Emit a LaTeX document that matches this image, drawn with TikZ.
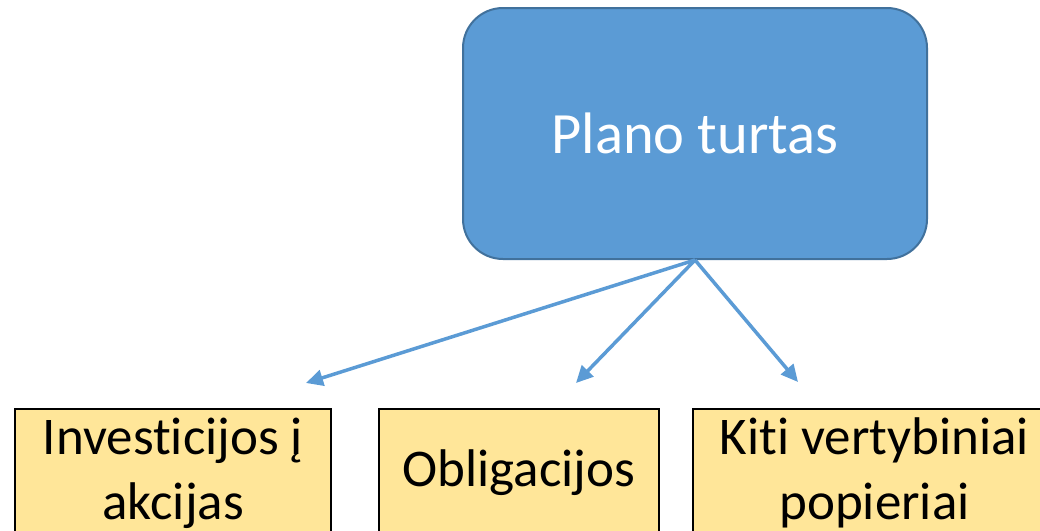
\documentclass[tikz,border=0pt]{standalone}
\usepackage{fontspec}
\setmainfont[Ligatures=NoCommon]{Carlito}
\usetikzlibrary{arrows.meta}
\definecolor{topfill}{HTML}{5B9BD5}
\definecolor{topdraw}{HTML}{41719C}
\definecolor{boxfill}{HTML}{FFE699}
\definecolor{arr}{HTML}{5B9BD5}
\tikzset{
  topbox/.style={draw=topdraw, fill=topfill, line width=2pt, rounded corners=40pt,
    minimum width=464pt, minimum height=251pt, text=white, inner sep=0pt,
    font=\fontsize{58.5}{70}\selectfont},
  ybox/.style={draw=black, fill=boxfill, line width=2pt, minimum height=128pt,
    anchor=north west, inner sep=0pt, align=center,
    font=\fontsize{53}{65}\selectfont},
  conn/.style={draw=arr, line width=3.5pt, -{Triangle[length=17pt,width=16pt]}}
}
\begin{document}
\begin{tikzpicture}[x=1pt,y=-1pt]
\useasboundingbox (0,0) rectangle (1040,530);
\clip (0,0) rectangle (1040,530);
\node[topbox] (top) at (695,133.5) {\raisebox{-4pt}{Plano turtas}};
\node[ybox, minimum width=316pt] (b1) at (14,408) {Investicijos į\\akcijas};
\node[ybox, minimum width=280pt] (b2) at (378,408) {Obligacijos};
\node[ybox, minimum width=363pt] (b3) at (692,408) {Kiti vertybiniai\\popieriai};
\coordinate (e1) at (306,383);
\coordinate (e2) at (576,383);
\coordinate (e3) at (798,382);
\draw[conn] (top.south) -- (e1);
\draw[conn] (top.south) -- (e2);
\draw[conn] (top.south) -- (e3);
\end{tikzpicture}
\end{document}
